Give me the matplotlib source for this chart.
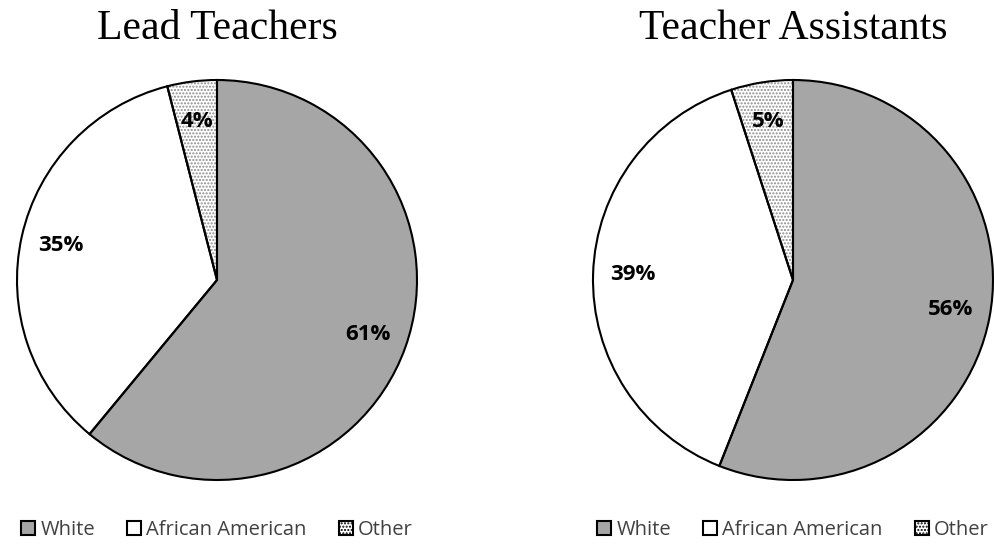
import matplotlib
matplotlib.use("Agg")
import matplotlib.pyplot as plt
from matplotlib.patches import Patch

# ── Data ──────────────────────────────────────────────────────────────────────

categories = ["White", "African American", "Other"]
lead_teachers = [61, 35, 4]
teacher_assistants = [56, 39, 5]
titles = ["Lead Teachers", "Teacher Assistants"]

FILLS = ["#A6A6A6", "#FFFFFF", "#FFFFFF"]
HATCHES = [None, None, "....."]
DOT_GREY = "#8C8C8C"
TEXT_GREY = "#404040"

fig = plt.figure(figsize=(9.95, 5.45), dpi=100)
W, H = 995, 545


def px_axes(cx, cy, r):
    """Axes box in figure fractions for a pie centred at pixel (cx, cy) from top-left."""
    return [(cx - r) / W, (H - cy - r) / H, 2 * r / W, 2 * r / H]


def draw_pie(values, title, cx, cy, r=200):
    ax = fig.add_axes(px_axes(cx, cy, r))
    # hatched fill layer (dots in grey)
    wedges, _ = ax.pie(values, colors=FILLS, startangle=90, counterclock=False,
                       wedgeprops=dict(edgecolor=DOT_GREY, linewidth=0))
    for w, h in zip(wedges, HATCHES):
        if h:
            w.set_hatch(h)
    # black outline layer with percentage labels
    _, _, autotexts = ax.pie(values, startangle=90, counterclock=False,
                             autopct="%d%%", pctdistance=0.8,
                             wedgeprops=dict(facecolor="none", edgecolor="black",
                                             linewidth=1.5))
    for t in autotexts:
        t.set_fontsize(16)
        t.set_fontweight("bold")
        t.set_fontfamily("Open Sans")
    ax.set_xlim(-1, 1)
    ax.set_ylim(-1, 1)
    ax.set_aspect("equal")
    fig.text(cx / W, 1 - 29 / H, title, ha="center", va="center",
             fontsize=30, family="Liberation Serif")

    handles = [Patch(facecolor=f, edgecolor="black", hatch=h, linewidth=1.5)
               for f, h in zip(FILLS, HATCHES)]
    fig.legend(handles, categories, loc="center", bbox_to_anchor=(cx / W, 15 / H),
               ncol=3, frameon=False, handlelength=0.7, handleheight=0.7,
               handletextpad=0.25, columnspacing=1.6,
               prop=dict(family="Open Sans", size=14.5), labelcolor=TEXT_GREY)


draw_pie(lead_teachers, titles[0], 217, 280)
draw_pie(teacher_assistants, titles[1], 793, 280)

fig.savefig("out.png", dpi=100)
